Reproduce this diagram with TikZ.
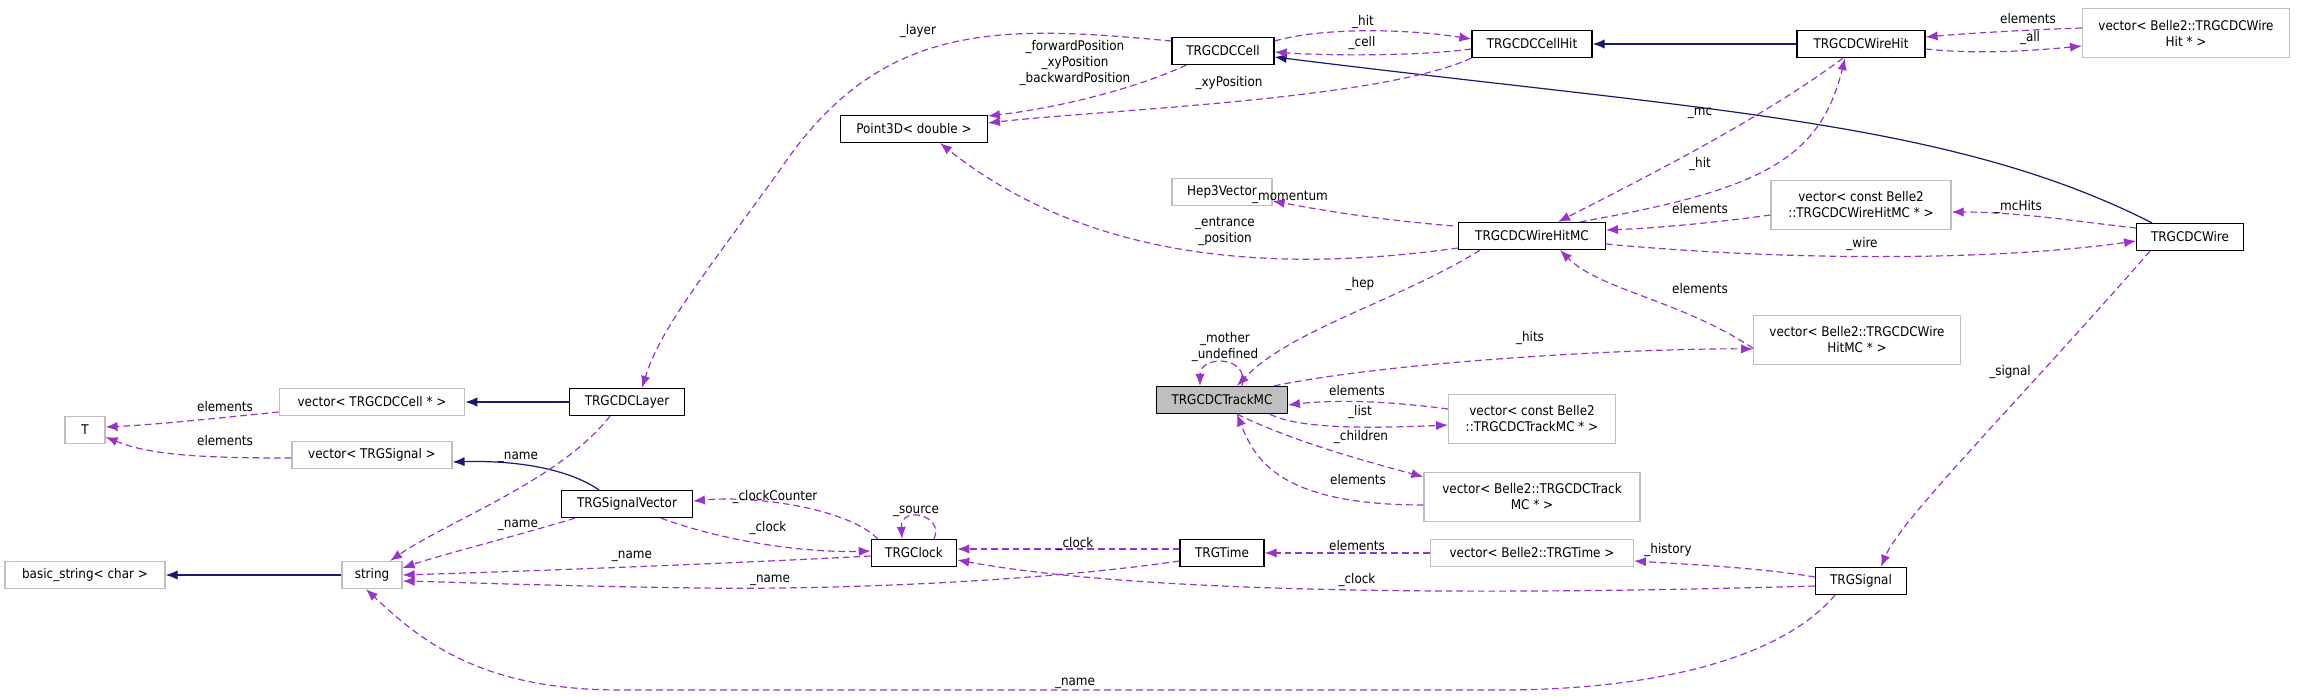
\documentclass[tikz,border=0pt]{standalone}
\usepackage{fontspec}
\setmainfont{DejaVu Sans Condensed}
\usetikzlibrary{arrows.meta,calc}
\definecolor{dep}{HTML}{9A32CD}
\definecolor{inh}{HTML}{191970}
\definecolor{ext}{HTML}{BFBFBF}
\tikzset{
 cls/.style={draw=black,line width=0.9pt,fill=white,inner sep=0pt,minimum height=20.25pt,font=\fontsize{10}{12}\selectfont,align=center},
 xcls/.style={cls,draw=ext},
 dep/.style={draw=dep,line width=0.9pt,dash pattern=on 5pt off 3pt,-{Latex[length=9pt,width=7pt]}},
 inh/.style={draw=inh,line width=0.9pt,-{Latex[length=9pt,width=7pt]}},
 lbl/.style={font=\fontsize{10}{12}\selectfont,inner sep=0pt,align=center}
}
\begin{document}
\begin{tikzpicture}[x=0.75pt,y=-0.75pt]
\useasboundingbox (0,0) rectangle (2301,696);
% nodes
\node[cls,minimum width=76.5pt] (Cell) at (1223,51) {TRGCDCCell};
\node[cls,minimum width=90pt] (CellHit) at (1532,44) {TRGCDCCellHit};
\node[cls,minimum width=96pt] (WireHit) at (1861,44) {TRGCDCWireHit};
\node[xcls,minimum width=155pt,minimum height=37pt] (vWireHit) at (2186,33) {vector\textless{} Belle2::TRGCDCWire\\Hit * \textgreater{}};
\node[cls,minimum width=110pt] (P3D) at (914,129) {Point3D\textless{} double \textgreater{}};
\node[xcls,minimum width=75pt] (Hep) at (1222,192) {Hep3Vector};
\node[xcls,minimum width=135pt,minimum height=37pt] (vcWHMC) at (1861,205) {vector\textless{} const Belle2\\::TRGCDCWireHitMC * \textgreater{}};
\node[cls,minimum width=110pt] (WHMC) at (1532,236) {TRGCDCWireHitMC};
\node[cls,minimum width=80pt] (Wire) at (2190,237) {TRGCDCWire};
\node[xcls,minimum width=155pt,minimum height=37pt] (vWHMC) at (1857,340) {vector\textless{} Belle2::TRGCDCWire\\HitMC * \textgreater{}};
\node[cls,fill=ext,minimum width=98pt] (TMC) at (1222,400) {TRGCDCTrackMC};
\node[xcls,minimum width=125pt,minimum height=37pt] (vcTMC) at (1532,419) {vector\textless{} const Belle2\\::TRGCDCTrackMC * \textgreater{}};
\node[xcls,minimum width=162pt,minimum height=37pt] (vTMC) at (1532,497) {vector\textless{} Belle2::TRGCDCTrack\\MC * \textgreater{}};
\node[cls,minimum width=86pt] (Layer) at (627,402) {TRGCDCLayer};
\node[xcls,minimum width=139pt] (vCell) at (372,402) {vector\textless{} TRGCDCCell * \textgreater{}};
\node[xcls,minimum width=30pt] (T) at (85,430) {T};
\node[xcls,minimum width=120pt] (vSig) at (372,455) {vector\textless{} TRGSignal \textgreater{}};
\node[cls,minimum width=98pt] (SigV) at (627,504) {TRGSignalVector};
\node[xcls,minimum width=120pt] (bstr) at (85,575) {basic\_string\textless{} char \textgreater{}};
\node[xcls,minimum width=45pt] (str) at (372,575) {string};
\node[cls,minimum width=64pt] (Clock) at (914,553) {TRGClock};
\node[cls,minimum width=63pt] (Time) at (1222,553) {TRGTime};
\node[xcls,minimum width=152pt] (vTime) at (1532,553) {vector\textless{} Belle2::TRGTime \textgreater{}};
\node[cls,minimum width=68pt] (Sig) at (1861,581) {TRGSignal};
% solid edges
\draw[inh] (WireHit.west) -- (CellHit.east);
\draw[inh] ($(Wire.north)+(-38,0)$) .. controls (1950,120) and (1700,110) .. ($(Cell.east)+(0,6)$);
\draw[inh] (Layer.west) -- (vCell.east);
\draw[inh] ($(SigV.north)+(-28,0)$) .. controls (570,470) and (520,460) .. ($(vSig.east)+(0,7)$);
\draw[inh] (str.west) -- (bstr.east);
% dependency edges
\draw[dep] ($(Cell.west)+(0,-10)$) .. controls (1000,25) and (880,20) .. (780,170) .. controls (700,280) and (660,330) .. ($(Layer.north)+(15,0)$);
\draw[dep] ($(Cell.south west)+(15,0)$) .. controls (1120,95) and (1040,110) .. ($(P3D.east)+(0,-13)$);
\draw[dep] ($(CellHit.south west)+(0,0)$) .. controls (1380,100) and (1100,110) .. ($(P3D.east)+(0,-6)$);
\draw[dep] ($(Cell.east)+(0,-10)$) .. controls (1320,28) and (1400,28) .. ($(CellHit.west)+(0,-5)$);
\draw[dep] ($(CellHit.west)+(0,5)$) .. controls (1420,56) and (1330,56) .. ($(Cell.east)+(0,1)$);
\draw[dep] ($(vWireHit.west)+(0,-5)$) .. controls (2020,30) and (1960,34) .. ($(WireHit.east)+(0,-7)$);
\draw[dep] ($(WireHit.east)+(0,5)$) .. controls (1980,55) and (2040,50) .. ($(vWireHit.west)+(0,13)$);
\draw[dep] ($(WireHit.south)+(-18,0)$) .. controls (1760,120) and (1640,180) .. ($(WHMC.north)+(26,0)$);
\draw[dep] ($(WHMC.north)+(48,0)$) .. controls (1760,190) and (1820,160) .. ($(WireHit.south)+(-16,0)$);
\draw[dep] ($(WHMC.west)+(0,12)$) .. controls (1300,270) and (1100,270) .. ($(P3D.south)+(26,0)$);
\draw[dep] ($(WHMC.north west)+(-5,4)$) .. controls (1380,220) and (1320,210) .. ($(Hep.east)+(0,9)$);
\draw[dep] ($(vcWHMC.west)+(0,10)$) .. controls (1720,222) and (1660,228) .. ($(WHMC.east)+(0,-6)$);
\draw[dep] ($(Wire.west)+(0,-9)$) .. controls (2080,222) and (2020,212) .. ($(vcWHMC.east)+(0,7)$);
\draw[dep] ($(WHMC.east)+(0,8)$) .. controls (1800,262) and (2000,260) .. ($(Wire.west)+(0,4)$);
\draw[dep] ($(WHMC.south west)+(22,0)$) .. controls (1400,300) and (1290,330) .. ($(TMC.north)+(15,0)$);
\draw[dep] ($(TMC.north)+(20,0)$) .. controls (1250,355) and (1200,355) .. ($(TMC.north)+(-22,0)$);
\draw[dep] ($(TMC.north east)+(-14,0)$) .. controls (1400,360) and (1650,348) .. ($(vWHMC.west)+(0,9)$);
\draw[dep] ($(vWHMC.south west)+(0,-17)$) .. controls (1680,300) and (1600,290) .. ($(WHMC.south)+(28,0)$);
\draw[dep] ($(vcTMC.west)+(0,-10)$) .. controls (1380,400) and (1330,400) .. ($(TMC.east)+(0,5)$);
\draw[dep] ($(TMC.south east)+(-18,0)$) .. controls (1300,430) and (1380,428) .. ($(vcTMC.west)+(0,6)$);
\draw[dep] ($(TMC.south)+(15,0)$) .. controls (1290,440) and (1360,460) .. ($(vTMC.north west)+(0,5)$);
\draw[dep] ($(vTMC.west)+(0,8)$) .. controls (1280,505) and (1255,460) .. ($(TMC.south)+(15,0)$);
\draw[dep] ($(Wire.south)+(-40,0)$) .. controls (2020,400) and (1900,520) .. ($(Sig.north)+(20,0)$);
\draw[dep] ($(Layer.south)+(-17,0)$) .. controls (560,480) and (450,520) .. ($(str.north)+(18,0)$);
\draw[dep] ($(vCell.west)+(0,10)$) .. controls (200,420) and (150,425) .. ($(T.east)+(0,-3)$);
\draw[dep] ($(vSig.west)+(0,3)$) .. controls (200,458) and (150,455) .. ($(T.east)+(0,7)$);
\draw[dep] ($(SigV.south west)+(14,0)$) .. controls (520,535) and (440,555) .. ($(str.east)+(0,-7)$);
\draw[dep] ($(Clock.north west)+(7,0)$) .. controls (850,510) and (760,495) .. ($(SigV.east)+(0,-3)$);
\draw[dep] ($(SigV.south east)+(-32,0)$) .. controls (720,540) and (800,553) .. ($(Clock.west)+(0,-2)$);
\draw[dep] ($(Clock.north)+(20,0)$) .. controls (945,515) and (900,505) .. ($(Clock.north)+(-12,0)$);
\draw[dep] ($(Clock.west)+(0,3)$) .. controls (700,565) and (500,572) .. ($(str.east)+(0,0)$);
\draw[dep] ($(Time.west)+(0,8)$) .. controls (1050,580) and (850,590) .. (700,588) .. controls (550,586) and (450,582) .. ($(str.east)+(0,6)$);
\draw[dep] ($(Time.west)+(0,-4)$) -- ($(Clock.east)+(0,-4)$);
\draw[dep] (vTime.west) -- (Time.east);
\draw[dep] ($(Sig.west)+(0,-4)$) .. controls (1760,568) and (1700,565) .. ($(vTime.east)+(0,8)$);
\draw[dep] ($(Sig.west)+(0,5)$) .. controls (1500,595) and (1150,595) .. ($(Clock.east)+(0,7)$);
\draw[dep] ($(Sig.south west)+(20,0)$) .. controls (1780,660) and (1650,690) .. (1500,690) -- (620,690) .. controls (480,690) and (420,640) .. ($(str.south)+(-6,0)$);
% labels
\node[lbl] (l1) at (918,31) {\_layer};
\node[lbl] (l2) at (1075,63) {\_forwardPosition\\\_xyPosition\\\_backwardPosition};
\node[lbl] (l3) at (1229,83) {\_xyPosition};
\node[lbl] (l4) at (1363,22) {\_hit};
\node[lbl] (l5) at (1362,43) {\_cell};
\node[lbl] (l6) at (2028,19) {elements};
\node[lbl] (l7) at (2030,38) {\_all};
\node[lbl] (l8) at (1700,113) {\_mc};
\node[lbl] (l9) at (1700,164) {\_hit};
\node[lbl] (l10) at (1290,197) {\_momentum};
\node[lbl] (l11) at (1225,231) {\_entrance\\\_position};
\node[lbl] (l12) at (1700,209) {elements};
\node[lbl] (l13) at (2018,207) {\_mcHits};
\node[lbl] (l14) at (1862,244) {\_wire};
\node[lbl] (l15) at (1360,284) {\_hep};
\node[lbl] (l16) at (1700,289) {elements};
\node[lbl] (l17) at (1530,338) {\_hits};
\node[lbl] (l18) at (1225,347) {\_mother\\\_undefined};
\node[lbl] (l19) at (1357,391) {elements};
\node[lbl] (l20) at (1360,412) {\_list};
\node[lbl] (l21) at (1361,437) {\_children};
\node[lbl] (l22) at (1358,480) {elements};
\node[lbl] (l23) at (2010,372) {\_signal};
\node[lbl] (l24) at (1668,550) {\_history};
\node[lbl] (l25) at (1357,546) {elements};
\node[lbl] (l26) at (1357,580) {\_clock};
\node[lbl] (l27) at (1075,544) {\_clock};
\node[lbl] (l28) at (775,497) {\_clockCounter};
\node[lbl] (l29) at (916,511) {\_source};
\node[lbl] (l30) at (768,528) {\_clock};
\node[lbl] (l31) at (518,457) {\_name};
\node[lbl] (l32) at (518,525) {\_name};
\node[lbl] (l33) at (632,556) {\_name};
\node[lbl] (l34) at (770,580) {\_name};
\node[lbl] (l35) at (1075,683) {\_name};
\node[lbl] (l36) at (225,407) {elements};
\node[lbl] (l37) at (225,441) {elements};
\end{tikzpicture}
\end{document}
